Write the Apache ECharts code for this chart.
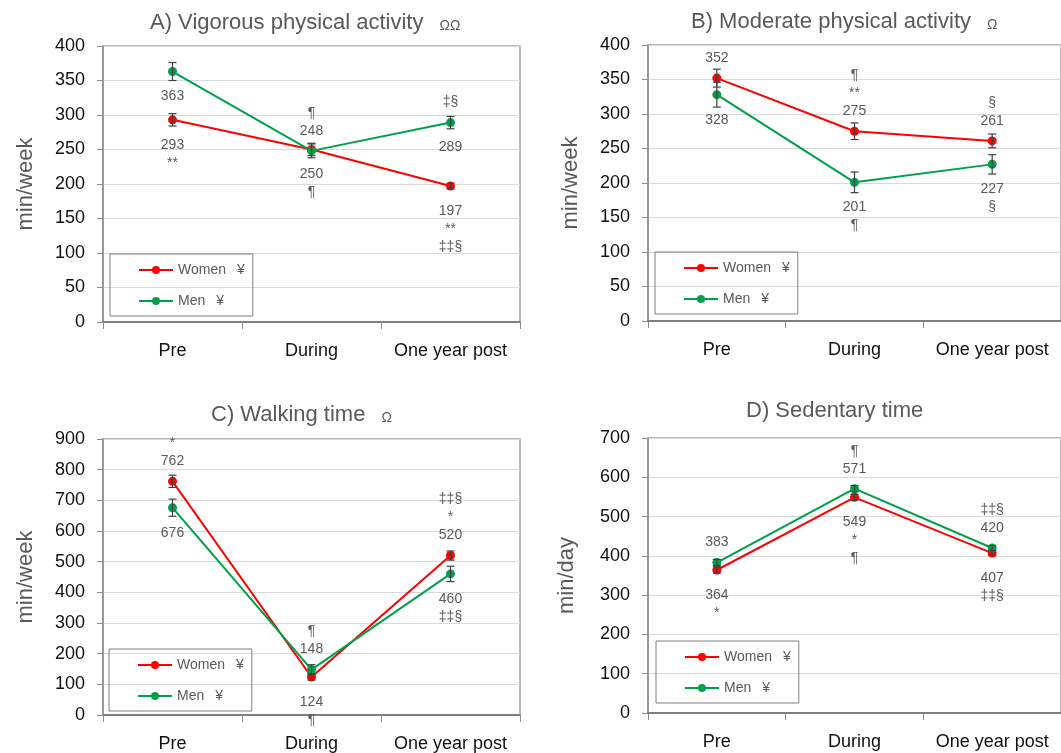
<!DOCTYPE html>
<html>
<head>
<meta charset="utf-8">
<script src="https://cdn.jsdelivr.net/npm/echarts@6/dist/echarts.min.js"></script>
<style>html,body{margin:0;padding:0;background:#fff}#c{width:1061px;height:753px}</style>
</head>
<body>
<div id="c"></div>
<script>
// ---------- data ----------
const categories = ['Pre', 'During', 'One year post'];

const vigWomen = [293, 250, 197];
const vigWomenErr = [9, 9, 4];
const vigMen = [363, 248, 289];
const vigMenErr = [13, 10, 9];

const modWomen = [352, 275, 261];
const modWomenErr = [13, 12, 10];
const modMen = [328, 201, 227];
const modMenErr = [18, 15, 14];

const walkWomen = [762, 124, 520];
const walkWomenErr = [20, 10, 15];
const walkMen = [676, 148, 460];
const walkMenErr = [28, 16, 25];

const sedWomen = [364, 549, 407];
const sedWomenErr = [8, 8, 6];
const sedMen = [383, 571, 420];
const sedMenErr = [8, 8, 6];

// annotation lines above / below each point, top-to-bottom ('v' = the value)
const vigWomenAbove = [[], [], []];
const vigWomenBelow = [['v', '**'], ['v', '¶'], ['v', '**', '‡‡§']];
const vigMenAbove = [[], ['¶', 'v'], ['‡§']];
const vigMenBelow = [['v'], [], ['v']];

const modWomenAbove = [['v'], ['¶', '**', 'v'], ['§', 'v']];
const modWomenBelow = [[], [], []];
const modMenAbove = [[], [], []];
const modMenBelow = [['v'], ['v', '¶'], ['v', '§']];

const walkWomenAbove = [['*', 'v'], [], ['‡‡§', '*', 'v']];
const walkWomenBelow = [[], ['v', '¶'], []];
const walkMenAbove = [[], ['¶', 'v'], []];
const walkMenBelow = [['v'], [], ['v', '‡‡§']];

const sedWomenAbove = [[], [], []];
const sedWomenBelow = [['v', '*'], ['v', '*', '¶'], ['v', '‡‡§']];
const sedMenAbove = [['v'], ['¶', 'v'], ['‡‡§', 'v']];
const sedMenBelow = [[], [], []];

const panelTitles = ['A) Vigorous physical activity', 'B) Moderate physical activity', 'C) Walking time', 'D) Sedentary time'];
const panelMarks = ['ΩΩ', 'Ω', 'Ω', ''];
const yNames = ['min/week', 'min/week', 'min/week', 'min/day'];
const yMax = [400, 400, 900, 700];
const yStep = [50, 50, 100, 100];
const legendNames = ['Women', 'Men'];

// ---------- styling / layout ----------
const F = '"Liberation Sans", Arial, sans-serif';
const RED = '#ff0000';
const GREEN = '#00a04b';
const GREY = '#595959';

const grids = [
  {left: 103, top: 46, width: 417, height: 276},
  {left: 648, top: 45, width: 417, height: 276},
  {left: 103, top: 439, width: 417, height: 278},
  {left: 648, top: 438, width: 417, height: 275}
];
const titlePos = [[150, 12], [691, 11], [211, 404], [746, 400]];
const legendPos = [[110, 254], [655, 252], [109, 649], [656, 641]];
const nameGaps = [66, 66, 66, 70];

const panels = [
  {w: vigWomen, we: vigWomenErr, m: vigMen, me: vigMenErr, wa: vigWomenAbove, wb: vigWomenBelow, ma: vigMenAbove, mb: vigMenBelow},
  {w: modWomen, we: modWomenErr, m: modMen, me: modMenErr, wa: modWomenAbove, wb: modWomenBelow, ma: modMenAbove, mb: modMenBelow},
  {w: walkWomen, we: walkWomenErr, m: walkMen, me: walkMenErr, wa: walkWomenAbove, wb: walkWomenBelow, ma: walkMenAbove, mb: walkMenBelow},
  {w: sedWomen, we: sedWomenErr, m: sedMen, me: sedMenErr, wa: sedWomenAbove, wb: sedWomenBelow, ma: sedMenAbove, mb: sedMenBelow}
];

function lineSeries(name, idx, vals, color) {
  return {
    type: 'line', name, xAxisIndex: idx, yAxisIndex: idx, data: vals,
    symbol: 'circle', symbolSize: 9, z: 2,
    lineStyle: {color, width: 2}, itemStyle: {color}
  };
}

function errorSeries(name, idx, vals, errs) {
  return {
    type: 'custom', name, xAxisIndex: idx, yAxisIndex: idx, z: 3, silent: true,
    data: vals.map((v, i) => [i, v, errs[i]]),
    encode: {x: 0, y: 1},
    renderItem: (params, api) => {
      const i = api.value(0), v = api.value(1), e = api.value(2);
      const t = api.coord([i, v + e]), b = api.coord([i, v - e]);
      const hw = 4;
      const st = {stroke: '#404040', lineWidth: 1.2};
      return {type: 'group', children: [
        {type: 'line', shape: {x1: t[0], y1: t[1], x2: b[0], y2: b[1]}, style: st},
        {type: 'line', shape: {x1: t[0] - hw, y1: t[1], x2: t[0] + hw, y2: t[1]}, style: st},
        {type: 'line', shape: {x1: b[0] - hw, y1: b[1], x2: b[0] + hw, y2: b[1]}, style: st}
      ]};
    }
  };
}

function annotSeries(name, idx, vals, above, below) {
  return {
    type: 'custom', name, xAxisIndex: idx, yAxisIndex: idx, z: 5, silent: true,
    data: vals.map((v, i) => [i, v]),
    encode: {x: 0, y: 1},
    renderItem: (params, api) => {
      const i = api.value(0), v = api.value(1);
      const p = api.coord([i, v]);
      const children = [];
      const mk = (txt, y) => ({type: 'text', x: p[0], y,
        style: {text: txt === 'v' ? String(v) : txt, fill: GREY, fontSize: 14, fontFamily: F, align: 'center', verticalAlign: 'middle'}});
      const a = above[params.dataIndex];
      a.forEach((t, k) => children.push(mk(t, p[1] - 20 - 18 * (a.length - 1 - k))));
      const b = below[params.dataIndex];
      b.forEach((t, k) => children.push(mk(t, p[1] + 25 + 18 * k)));
      return {type: 'group', children};
    }
  };
}

const option = {
  animation: false,
  backgroundColor: '#fff',
  title: panelTitles.map((t, i) => ({
    text: '{m|' + t + '}' + (panelMarks[i] ? '{s|' + panelMarks[i] + '}' : ''),
    left: titlePos[i][0], top: titlePos[i][1], padding: 0,
    textStyle: {fontWeight: 'normal', rich: {
      m: {fontSize: 22, color: GREY, fontFamily: F, fontWeight: 'normal'},
      s: {fontSize: 14, color: GREY, fontFamily: F, fontWeight: 'normal', padding: [6, 0, 0, 16]}
    }}
  })),
  legend: legendPos.map((p, i) => ({
    data: legendNames, orient: 'vertical', left: p[0], top: p[1],
    borderColor: '#7f7f7f', borderWidth: 1, padding: [9, 8, 8, 28],
    itemWidth: 34, itemHeight: 10, itemGap: 17, selectedMode: false,
    formatter: n => '{n|' + n + '}{y|¥}',
    textStyle: {rich: {
      n: {fontSize: 14, color: GREY, fontFamily: F},
      y: {fontSize: 14, color: GREY, fontFamily: F, padding: [0, 0, 0, 11]}
    }}
  })),
  grid: grids.map(g => Object.assign({show: true, borderColor: '#a6a6a6', borderWidth: 1.5}, g)),
  xAxis: grids.map((g, i) => ({
    type: 'category', gridIndex: i, data: categories, boundaryGap: true,
    axisLine: {lineStyle: {color: '#7f7f7f', width: 2}},
    axisTick: {show: true, length: 7, lineStyle: {color: '#8c8c8c'}},
    axisLabel: {fontSize: 18, color: '#111', fontFamily: F, margin: 20, interval: 0},
    splitLine: {show: false}
  })),
  yAxis: grids.map((g, i) => ({
    type: 'value', gridIndex: i, min: 0, max: yMax[i], interval: yStep[i],
    name: yNames[i], nameLocation: 'middle', nameGap: nameGaps[i], nameRotate: 90,
    nameTextStyle: {fontSize: 22, color: GREY, fontFamily: F},
    axisLine: {show: true, lineStyle: {color: '#8c8c8c', width: 1.5}},
    axisTick: {show: true, length: 6, lineStyle: {color: '#8c8c8c'}},
    axisLabel: {fontSize: 18, color: '#111', fontFamily: F, margin: 18},
    splitLine: {show: true, lineStyle: {color: '#d9d9d9', width: 1}}
  })),
  series: []
};

panels.forEach((p, i) => {
  option.series.push(lineSeries('Women', i, p.w, RED));
  option.series.push(lineSeries('Men', i, p.m, GREEN));
  option.series.push(errorSeries('errW' + i, i, p.w, p.we));
  option.series.push(errorSeries('errM' + i, i, p.m, p.me));
  option.series.push(annotSeries('annW' + i, i, p.w, p.wa, p.wb));
  option.series.push(annotSeries('annM' + i, i, p.m, p.ma, p.mb));
});

const chart = echarts.init(document.getElementById('c'), null, {renderer: 'canvas'});
chart.setOption(option);
</script>
</body>
</html>
